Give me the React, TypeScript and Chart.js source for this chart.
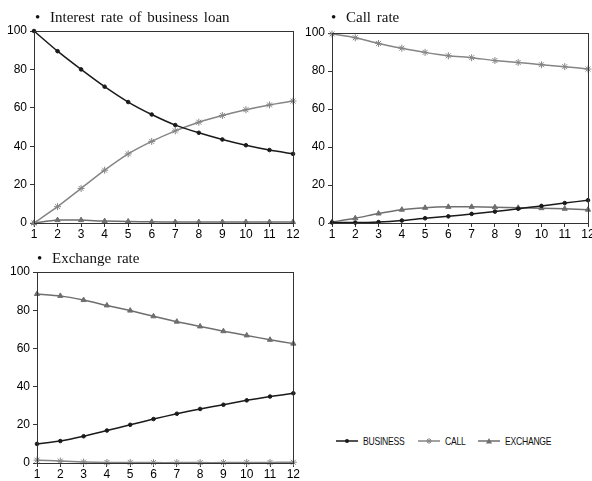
import React, { useEffect, useRef } from "react";
import { Chart, registerables } from "chart.js";
Chart.register(...registerables);

const periods = ["1", "2", "3", "4", "5", "6", "7", "8", "9", "10", "11", "12"];
const yTicks = [0, 20, 40, 60, 80, 100];

// Panel 1: Interest rate of business loan
const loanBusiness = [100, 89.5, 80, 71, 63, 56.5, 51, 47, 43.5, 40.5, 38, 36];
const loanCall = [0, 8.5, 18, 27.5, 36, 42.5, 48, 52.5, 56, 59, 61.5, 63.5];
const loanExchange = [0, 1.5, 1.5, 1, 0.8, 0.6, 0.5, 0.5, 0.5, 0.5, 0.5, 0.5];

// Panel 2: Call rate
const callBusiness = [0.3, 0.2, 0.5, 1.3, 2.5, 3.5, 4.8, 6, 7.5, 9, 10.5, 12];
const callCall = [99.5, 97.5, 94.5, 92, 89.8, 88, 87, 85.5, 84.5, 83.3, 82.3, 81];
const callExchange = [0.5, 2.5, 5, 7, 8, 8.5, 8.5, 8.3, 8, 7.8, 7.5, 7];

// Panel 3: Exchange rate
const exBusiness = [10, 11.5, 14, 17, 20, 23, 25.8, 28.3, 30.5, 32.8, 34.8, 36.5];
const exCall = [1.5, 1, 0.5, 0.3, 0.3, 0.2, 0.2, 0.2, 0.2, 0.3, 0.3, 0.4];
const exExchange = [88.5, 87.5, 85.3, 82.5, 79.8, 76.8, 74, 71.5, 69, 66.8, 64.5, 62.5];

const seriesNames = ["BUSINESS", "CALL", "EXCHANGE"];

const C_BUS = "#1a1a1a";
const C_CALL = "#858585";
const C_EX = "#6e6e6e";
const AXIS = "#333333";
const tickFont = { family: "'Liberation Sans', Arial, sans-serif", size: 12 };

const framePlugin = {
  id: "frame",
  afterDraw(chart: any) {
    const { ctx, chartArea } = chart;
    ctx.save();
    ctx.strokeStyle = AXIS;
    ctx.lineWidth = 1;
    ctx.strokeRect(
      Math.round(chartArea.left) + 0.5,
      Math.round(chartArea.top) + 0.5,
      Math.round(chartArea.right - chartArea.left),
      Math.round(chartArea.bottom - chartArea.top)
    );
    ctx.restore();
  },
};

function makeDatasets(bus: number[], call: number[], ex: number[]) {
  return [
    {
      label: seriesNames[0],
      data: bus,
      borderColor: C_BUS,
      backgroundColor: C_BUS,
      borderWidth: 1.5,
      pointStyle: "circle",
      pointRadius: 1.8,
      pointBorderWidth: 1,
      tension: 0.2,
      clip: false,
    },
    {
      label: seriesNames[1],
      data: call,
      borderColor: C_CALL,
      backgroundColor: C_CALL,
      borderWidth: 1.5,
      pointStyle: "star",
      pointRadius: 3.5,
      pointBorderWidth: 1,
      tension: 0.2,
      clip: false,
    },
    {
      label: seriesNames[2],
      data: ex,
      borderColor: C_EX,
      backgroundColor: C_EX,
      borderWidth: 1.5,
      pointStyle: "triangle",
      pointRadius: 3,
      pointBorderWidth: 1,
      tension: 0.2,
      clip: false,
    },
  ];
}

function makeOptions(padTop: number, padRight: number, yWidth: number, xHeight: number) {
  return {
    responsive: false,
    animation: false,
    layout: { padding: { top: padTop, right: padRight, left: 0, bottom: 0 } },
    plugins: { legend: { display: false }, tooltip: { enabled: false }, title: { display: false } },
    scales: {
      x: {
        type: "category",
        offset: false,
        grid: { display: true, drawOnChartArea: false, drawTicks: true, tickLength: 4, color: AXIS },
        border: { color: AXIS, width: 1 },
        ticks: { font: tickFont, color: "#000", padding: 0, maxRotation: 0, autoSkip: false },
        afterFit: (s: any) => {
          s.height = xHeight;
        },
      },
      y: {
        min: 0,
        max: 100,
        afterBuildTicks: (s: any) => {
          s.ticks = yTicks.map((v) => ({ value: v }));
        },
        grid: { display: true, drawOnChartArea: false, drawTicks: true, tickLength: 4, color: AXIS },
        border: { color: AXIS, width: 1 },
        ticks: { font: tickFont, color: "#000", padding: 3 },
        afterFit: (s: any) => {
          s.width = yWidth;
        },
      },
    },
  };
}

type PanelProps = {
  left: number;
  top: number;
  width: number;
  height: number;
  bus: number[];
  call: number[];
  ex: number[];
  padTop: number;
  padRight: number;
  yWidth: number;
  xHeight: number;
};

function Panel(p: PanelProps) {
  const ref = useRef<HTMLCanvasElement | null>(null);
  useEffect(() => {
    if (!ref.current) return;
    const chart = new Chart(ref.current, {
      type: "line",
      data: { labels: periods, datasets: makeDatasets(p.bus, p.call, p.ex) as any },
      options: makeOptions(p.padTop, p.padRight, p.yWidth, p.xHeight) as any,
      plugins: [framePlugin],
    });
    return () => chart.destroy();
  }, []);
  return (
    <canvas
      ref={ref}
      width={p.width}
      height={p.height}
      style={{ position: "absolute", left: p.left, top: p.top, width: p.width, height: p.height }}
    />
  );
}

const titleStyle: React.CSSProperties = {
  position: "absolute",
  fontFamily: "'Liberation Serif', 'Times New Roman', serif",
  fontSize: 15,
  color: "#111",
  whiteSpace: "nowrap",
  lineHeight: "18px",
  wordSpacing: 2,
};

function Title({ x, y, text }: { x: number; y: number; text: string }) {
  return (
    <div style={{ ...titleStyle, left: x, top: y - 9 }}>
      <span style={{ display: "inline-block", width: 15 }}>•</span>
      {text}
    </div>
  );
}

function LegendItem({ x, color, kind, label }: { x: number; color: string; kind: string; label: string }) {
  return (
    <div style={{ position: "absolute", left: x, top: 433, height: 16, display: "flex", alignItems: "center" }}>
      <svg width={22} height={12} style={{ display: "block" }}>
        <line x1={0} y1={6} x2={22} y2={6} stroke={color} strokeWidth={1.5} />
        {kind === "dot" && <circle cx={11} cy={6} r={2} fill={color} />}
        {kind === "star" && (
          <g stroke={color} strokeWidth={1}>
            <line x1={11} y1={3} x2={11} y2={9} />
            <line x1={8} y1={6} x2={14} y2={6} />
            <line x1={9} y1={4} x2={13} y2={8} />
            <line x1={13} y1={4} x2={9} y2={8} />
          </g>
        )}
        {kind === "tri" && <polygon points="11,3 14,8.5 8,8.5" fill={color} />}
      </svg>
      <span
        style={{
          marginLeft: 5,
          fontFamily: "'Liberation Sans', Arial, sans-serif",
          fontSize: 11,
          color: "#111",
          display: "inline-block",
          transform: "scaleX(0.78)",
          transformOrigin: "left center",
          letterSpacing: -0.3,
        }}
      >
        {label}
      </span>
    </div>
  );
}

export default function App() {
  return (
    <div
      style={{
        position: "fixed",
        left: 0,
        top: 0,
        width: 592,
        height: 481,
        overflow: "hidden",
        background: "#fff",
      }}
    >
      <Panel left={0} top={0} width={300} height={245} bus={loanBusiness} call={loanCall} ex={loanExchange}
        padTop={31} padRight={7} yWidth={34} xHeight={22} />
      <Panel left={296} top={0} width={310} height={245} bus={callBusiness} call={callCall} ex={callExchange}
        padTop={33} padRight={18} yWidth={36} xHeight={22} />
      <Panel left={0} top={245} width={300} height={245} bus={exBusiness} call={exCall} ex={exExchange}
        padTop={27} padRight={6} yWidth={37} xHeight={27} />
      <Title x={35} y={17} text="Interest rate of business loan" />
      <Title x={331} y={17} text="Call rate" />
      <Title x={37} y={258} text="Exchange rate" />
      <LegendItem x={336} color={C_BUS} kind="dot" label={seriesNames[0]} />
      <LegendItem x={418} color={C_CALL} kind="star" label={seriesNames[1]} />
      <LegendItem x={478} color={C_EX} kind="tri" label={seriesNames[2]} />
    </div>
  );
}
